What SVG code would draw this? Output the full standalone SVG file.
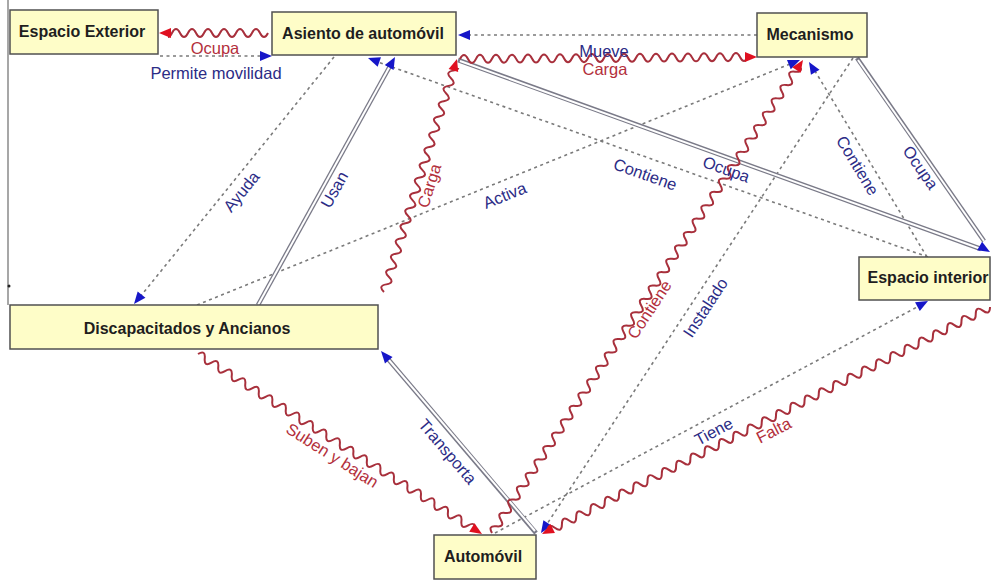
<svg xmlns="http://www.w3.org/2000/svg" width="992" height="581" viewBox="0 0 992 581">
<style>
.box{fill:#fefdc8;stroke:#505050;stroke-width:1.5}
.nt{font-family:"Liberation Sans",Arial,sans-serif;font-weight:bold;font-size:16px;fill:#1e1e1e;text-anchor:middle}
.lb{font-family:"Liberation Sans",Arial,sans-serif;font-size:16.5px;fill:#2c2c86;text-anchor:middle}
.lr{font-family:"Liberation Sans",Arial,sans-serif;font-size:16.5px;fill:#b3303c;text-anchor:middle}
.dot{stroke:#7a7a7a;stroke-width:1.6;stroke-dasharray:3 3.5;fill:none}
.dbo{stroke:#7a7a88;stroke-width:4.6;fill:none}
.dbi{stroke:#fff;stroke-width:2;fill:none}
.ab{fill:#1616c8}
.ar{fill:#e01020}
</style>
<defs>
<path id="wave" pathLength="600" fill="none" stroke="#a8303c" stroke-width="2" d="M0,0 q4,-8 8,0 t8,0t8,0t8,0t8,0t8,0t8,0t8,0t8,0t8,0t8,0 t8,0t8,0t8,0t8,0t8,0t8,0t8,0t8,0t8,0t8,0 t8,0t8,0t8,0t8,0t8,0t8,0t8,0t8,0t8,0t8,0 t8,0t8,0t8,0t8,0t8,0t8,0t8,0t8,0t8,0t8,0 t8,0t8,0t8,0t8,0t8,0t8,0t8,0t8,0t8,0t8,0 t8,0t8,0t8,0t8,0t8,0t8,0t8,0t8,0t8,0t8,0 t8,0t8,0t8,0t8,0t8,0t8,0t8,0t8,0t8,0t8,0 t8,0t8,0t8,0t8,0"/>
<path id="ah" d="M0,0 L-12,-5 L-12,5 Z"/>
</defs>
<rect width="992" height="581" fill="#ffffff"/>
<g id="frame">
<line x1="8" y1="0" x2="8" y2="305" stroke="#8a8a8a" stroke-width="1.5"/>
<circle cx="9" cy="286" r="1.5" fill="#222"/>
</g>
<g id="connectors">
<line class="dot" x1="160" y1="56" x2="262" y2="56"/>
<use href="#ah" class="ab" transform="translate(272,56)"/>
<line class="dot" x1="757" y1="35" x2="468" y2="35"/>
<use href="#ah" class="ab" transform="translate(458,35) rotate(180)"/>
<line class="dot" x1="334" y1="57" x2="140" y2="297"/>
<use href="#ah" class="ab" transform="translate(134,304) rotate(129)"/>
<line class="dot" x1="197" y1="305" x2="790" y2="64"/>
<use href="#ah" class="ab" transform="translate(800,60) rotate(-22.1)"/>
<line class="dot" x1="928" y1="257" x2="378" y2="62"/>
<use href="#ah" class="ab" transform="translate(368,58) rotate(-160.4)"/>
<line class="dot" x1="927" y1="257" x2="815" y2="71"/>
<use href="#ah" class="ab" transform="translate(809,62) rotate(-121.2)"/>
<line class="dot" x1="853" y1="58" x2="547" y2="524"/>
<use href="#ah" class="ab" transform="translate(541,533) rotate(123.3)"/>
<line class="dot" x1="495" y1="533" x2="919" y2="306"/>
<use href="#ah" class="ab" transform="translate(928,301) rotate(-28.2)"/>
<line class="dbo" x1="258" y1="305" x2="390" y2="66"/>
<line class="dbi" x1="258" y1="305" x2="390" y2="66"/>
<use href="#ah" class="ab" transform="translate(395,57) rotate(-61.1)"/>
<line class="dbo" x1="458" y1="60" x2="981" y2="249"/>
<line class="dbi" x1="460" y1="61" x2="981" y2="249"/>
<line class="dbo" x1="857" y1="58" x2="984" y2="241"/>
<line class="dbi" x1="858" y1="60" x2="984" y2="241"/>
<use href="#ah" class="ab" transform="translate(990,252) rotate(30)"/>
<line class="dbo" x1="536" y1="533" x2="388" y2="359"/>
<line class="dbi" x1="535" y1="531" x2="388" y2="359"/>
<use href="#ah" class="ab" transform="translate(381,351) rotate(-130.4)"/>
<use href="#wave" stroke-dasharray="100 2000" transform="translate(268,33) rotate(180)"/>
<use href="#ah" class="ar" transform="translate(159,33) rotate(180)"/>
<use href="#wave" stroke-dasharray="288 2000" transform="translate(460,59) rotate(-0.4)"/>
<use href="#ah" class="ar" transform="translate(757,57)"/>
<use href="#wave" stroke-dasharray="236 2000" transform="translate(384,292) rotate(-72.6)"/>
<use href="#ah" class="ar" transform="translate(457,59) rotate(-72.6)"/>
<use href="#wave" stroke-dasharray="558 2000" transform="translate(492,533) rotate(-56.7)"/>
<use href="#ah" class="ar" transform="translate(803,60) rotate(-56.7)"/>
<use href="#wave" stroke-dasharray="328 2000" transform="translate(198,354) rotate(32.4)"/>
<use href="#ah" class="ar" transform="translate(482,534) rotate(32.4)"/>
<use href="#wave" stroke-dasharray="494 2000" transform="translate(990,307) rotate(153.1)"/>
<use href="#ah" class="ar" transform="translate(542,534) rotate(153.1)"/>
<text class="lr" x="215" y="54">Ocupa</text>
<text class="lb" x="216" y="79">Permite movilidad</text>
<text class="lb" x="604" y="57">Mueve</text>
<text class="lr" x="605" y="75">Carga</text>
<text class="lr" transform="translate(430,186) rotate(-72.6)" y="5">Carga</text>
<text class="lb" transform="translate(335,190) rotate(-61.1)" y="5">Usan</text>
<text class="lb" transform="translate(242,192) rotate(-51)" y="5">Ayuda</text>
<text class="lb" transform="translate(505,196) rotate(-22.1)" y="5">Activa</text>
<text class="lb" transform="translate(645,175) rotate(19.6)" y="5">Contiene</text>
<text class="lb" transform="translate(726,170) rotate(19.8)" y="5">Ocupa</text>
<text class="lb" transform="translate(857,166) rotate(58.8)" y="5">Contiene</text>
<text class="lb" transform="translate(920,168) rotate(55.3)" y="5">Ocupa</text>
<text class="lr" transform="translate(650,310) rotate(-56.7)" y="5">Contiene</text>
<text class="lb" transform="translate(706,308) rotate(-56.7)" y="5">Instalado</text>
<text class="lr" transform="translate(332,456) rotate(32.4)" y="5">Suben y bajan</text>
<text class="lb" transform="translate(447,452) rotate(49.6)" y="5">Transporta</text>
<text class="lb" transform="translate(714,432) rotate(-28.2)" y="5">Tiene</text>
<text class="lr" transform="translate(774,431) rotate(-27)" y="5">Falta</text>
</g>
<g id="espacio-exterior">
<rect class="box" x="10" y="10" width="148" height="44"/>
<text class="nt" x="82" y="37">Espacio Exterior</text>
</g>
<g id="asiento">
<rect class="box" x="272" y="12" width="184" height="43"/>
<text class="nt" x="363" y="39">Asiento de automóvil</text>
</g>
<g id="mecanismo">
<rect class="box" x="757" y="13" width="110" height="44"/>
<text class="nt" x="810" y="40">Mecanismo</text>
</g>
<g id="espacio-interior">
<rect class="box" x="859" y="257" width="131" height="43"/>
<text class="nt" x="928" y="283">Espacio interior</text>
</g>
<g id="discapacitados">
<rect class="box" x="10" y="305" width="368" height="44"/>
<text class="nt" x="187" y="334">Discapacitados y Ancianos</text>
</g>
<g id="automovil">
<rect class="box" x="434" y="535" width="102" height="44"/>
<text class="nt" x="483" y="562">Automóvil</text>
</g>
</svg>
